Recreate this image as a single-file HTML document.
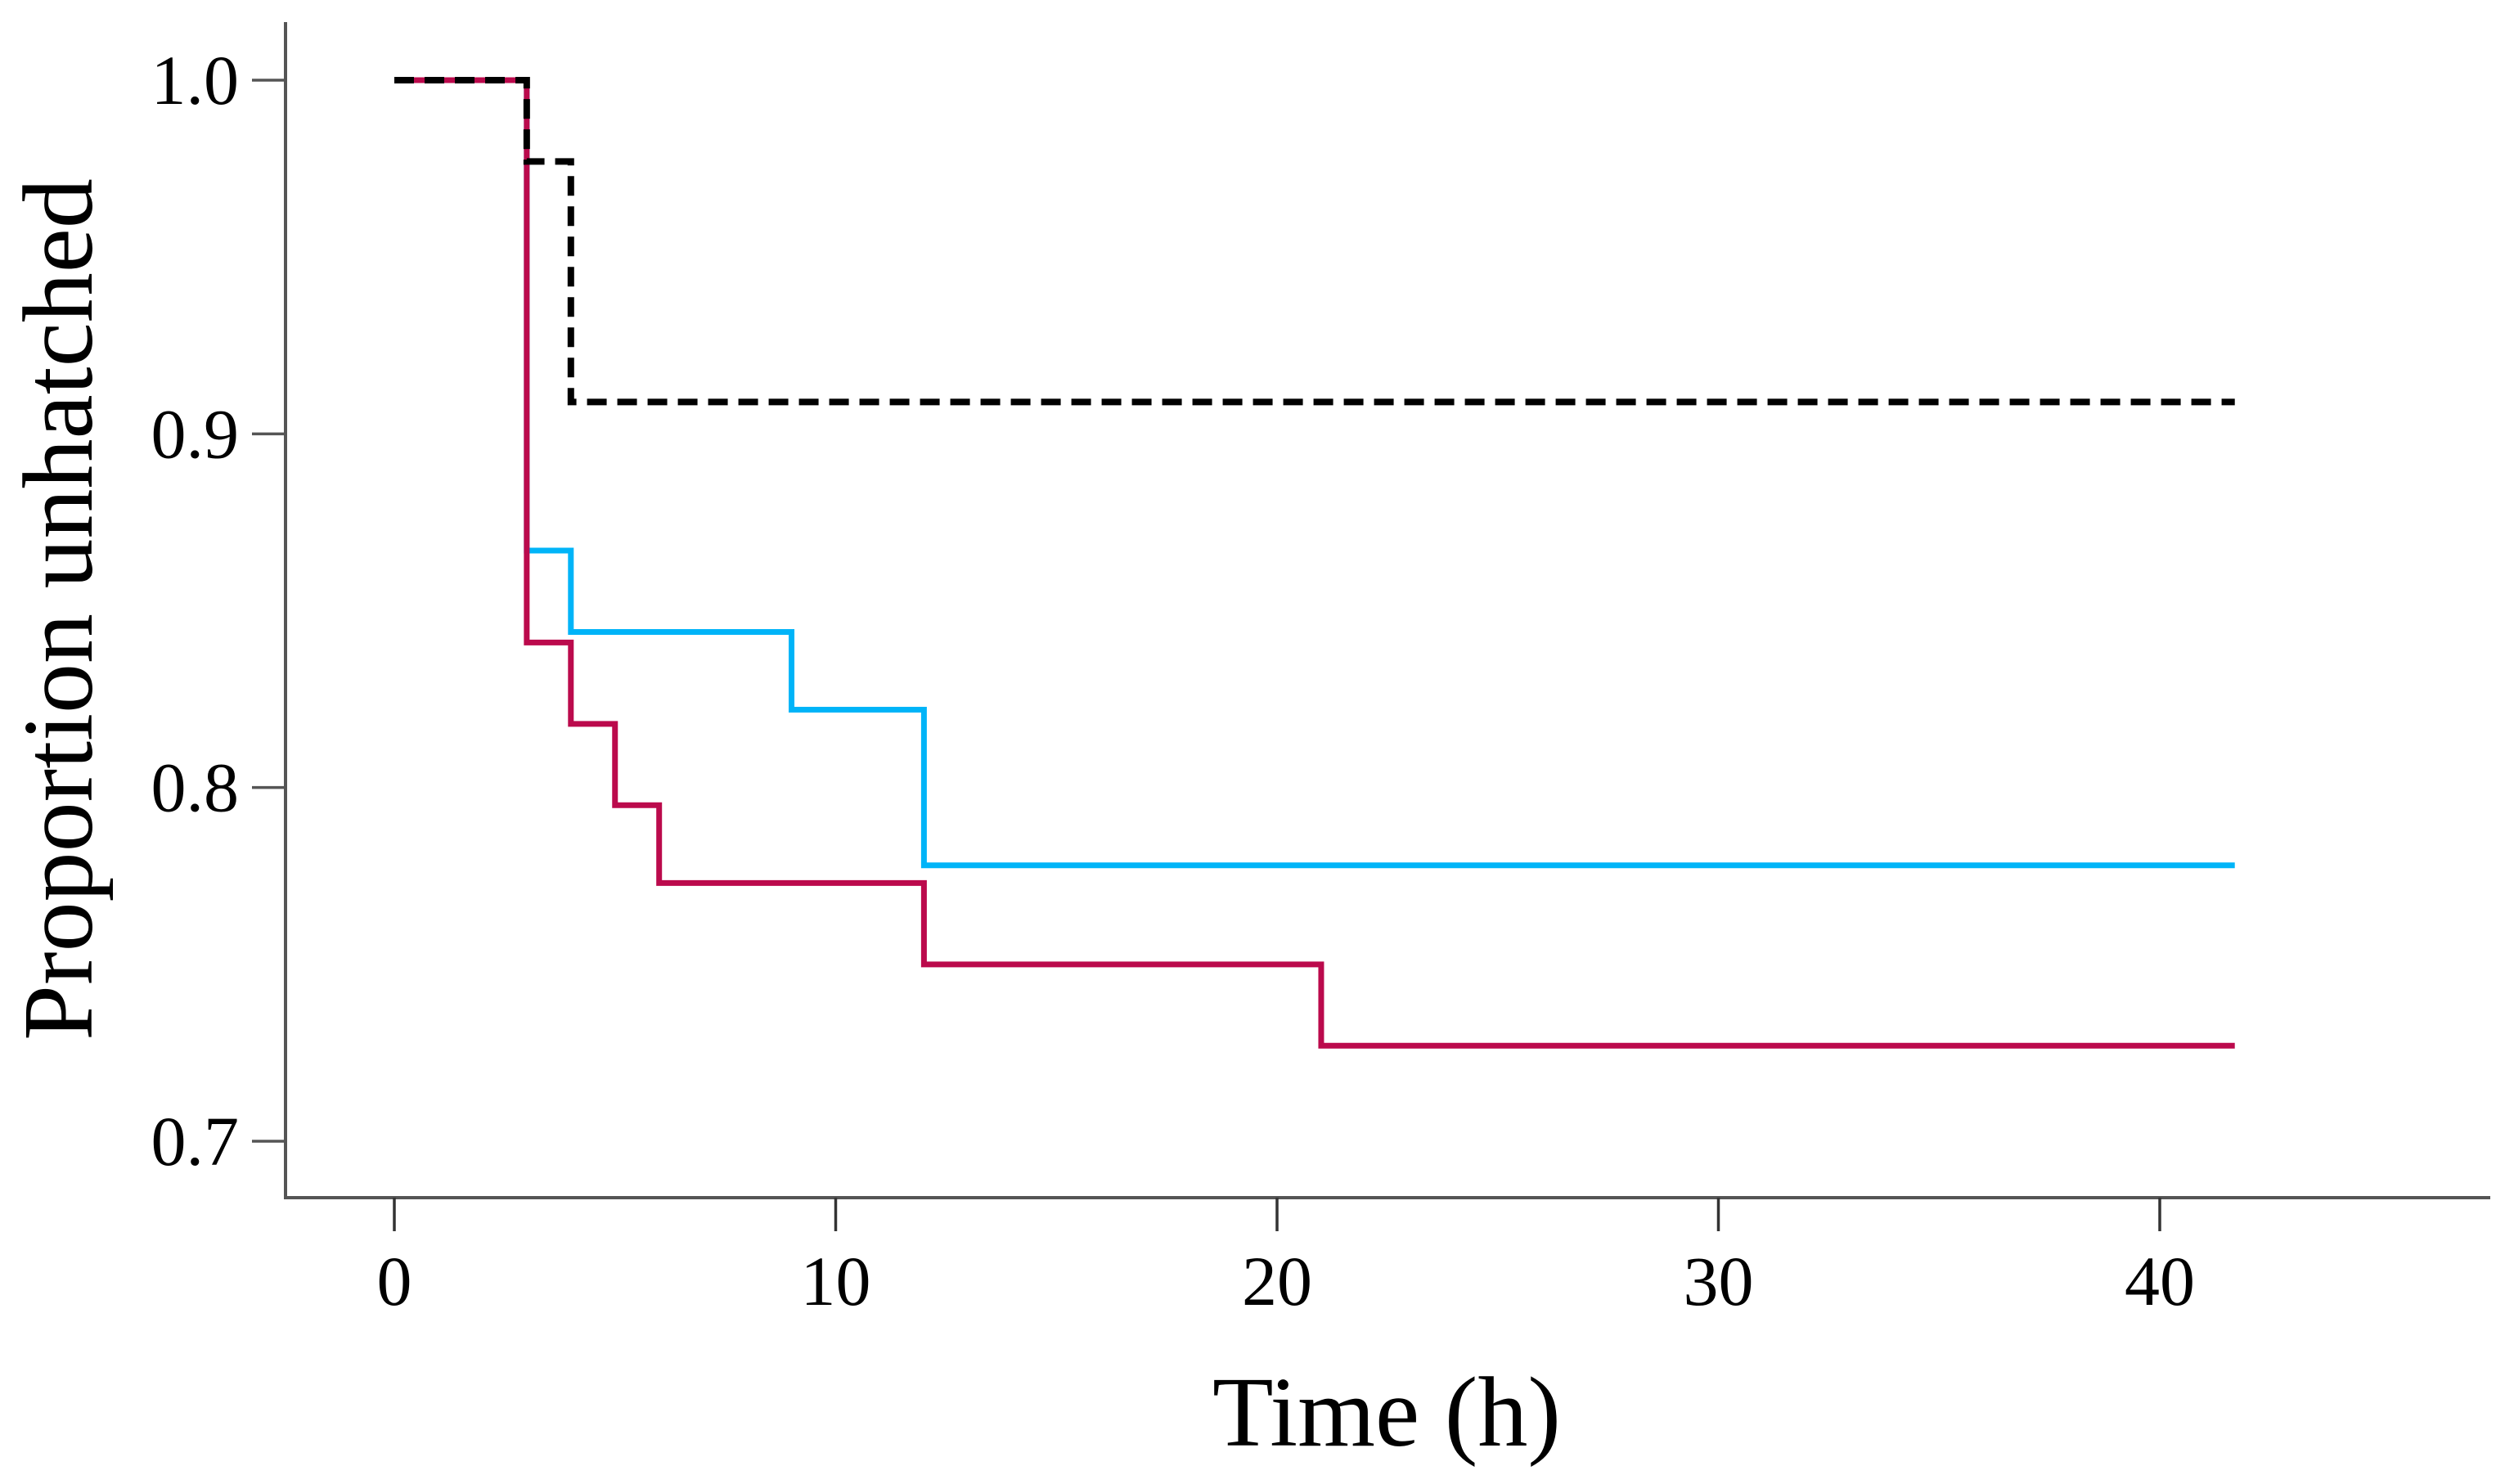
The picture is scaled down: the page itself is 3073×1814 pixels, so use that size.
<!DOCTYPE html>
<html><head><meta charset="utf-8"><style>
html,body{margin:0;padding:0;background:#fff;}
svg{display:block;}
text{font-family:"Liberation Serif",serif;fill:#000;}
</style></head><body>
<svg id="chart" width="3073" height="1814" viewBox="0 0 3073 1814" xmlns="http://www.w3.org/2000/svg">
<g id="axes"></g>
<g id="series"></g>
<text x="1695" y="1767" font-size="122" text-anchor="middle">Time (h)</text>
<text transform="translate(112,745) rotate(-90)" font-size="122" text-anchor="middle">Proportion unhatched</text>
</svg>
<script>
const xTicks = [0, 10, 20, 30, 40];
const xTickLabels = ["0", "10", "20", "30", "40"];
const yTicks = [1.0, 0.9, 0.8, 0.7];
const yTickLabels = ["1.0", "0.9", "0.8", "0.7"];
const endTime = 41.7;
const controlTimes = [0, 3, 4];
const controlValues = [1.0, 0.977, 0.909];
const blueTimes = [0, 3, 4, 9, 12];
const blueValues = [1.0, 0.867, 0.844, 0.822, 0.778];
const redTimes = [0, 3, 4, 5, 6, 12, 21];
const redValues = [1.0, 0.841, 0.818, 0.795, 0.773, 0.75, 0.727];

const NS = "http://www.w3.org/2000/svg";
const X0 = 482, X40 = 2640;
const Y1 = 98, Y07 = 1395;
function sx(t){ return X0 + (t - 0) * (X40 - X0) / 40; }
function sy(v){ return Y1 + (1.0 - v) * (Y07 - Y1) / 0.3; }
function mk(tag, attrs, parent){
  const e = document.createElementNS(NS, tag);
  for (const k in attrs) e.setAttribute(k, attrs[k]);
  parent.appendChild(e);
  return e;
}
const axes = document.getElementById('axes');
const series = document.getElementById('series');

let yl = mk('line', {x1:349, y1:27, x2:349, y2:1466, stroke:'#555', 'stroke-width':4}, axes);


let xl = mk('line', {x1:347, y1:1464, x2:3044, y2:1464, stroke:'#555', 'stroke-width':4}, axes);



xTicks.forEach((t, i) => {
  const tk = mk('line', {x1:sx(t), y1:1464, x2:sx(t), y2:1505, stroke:'#333', 'stroke-width':3.5}, axes);
  
  
  const lb = mk('text', {x:sx(t), y:1595, 'font-size':86, 'text-anchor':'middle'}, axes);
  lb.textContent = xTickLabels[i];
  
  
});
yTicks.forEach((v, i) => {
  const tk = mk('line', {x1:308, y1:sy(v), x2:349, y2:sy(v), stroke:'#555', 'stroke-width':3.5}, axes);
  
  
  const lb = mk('text', {x:292, y:sy(v)+29, 'font-size':86, 'text-anchor':'end'}, axes);
  lb.textContent = yTickLabels[i];
  
  
});

function stepPath(times, values){
  let d = 'M' + sx(times[0]) + ' ' + sy(values[0]);
  for (let i = 1; i < times.length; i++){
    d += ' H' + sx(times[i]) + ' V' + sy(values[i]);
  }
  d += ' H' + sx(endTime);
  return d;
}
let pb = mk('path', {d:stepPath(blueTimes, blueValues), fill:'none', stroke:'#00b4f8', 'stroke-width':7}, series);


let pr = mk('path', {d:stepPath(redTimes, redValues), fill:'none', stroke:'#bb0a4c', 'stroke-width':7}, series);


let pc = mk('path', {d:stepPath(controlTimes, controlValues), fill:'none', stroke:'#000', 'stroke-width':8, 'stroke-dasharray':'24 13'}, series);


</script>
</body></html>
